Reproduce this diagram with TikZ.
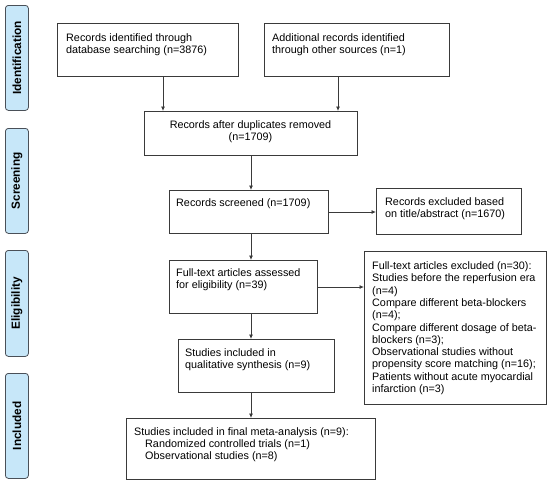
\documentclass[tikz,border=0pt]{standalone}
\usepackage{fontspec}
\setmainfont{Liberation Sans}
\usetikzlibrary{arrows.meta}
\definecolor{sidefill}{HTML}{C7E7F9}
\definecolor{sideline}{HTML}{4A5058}
\definecolor{boxline}{HTML}{3A3A3A}
\tikzset{
  box/.style={draw=boxline, line width=0.8pt, inner sep=0pt, anchor=north west},
  txt/.style={inner sep=0pt, anchor=base west, align=left, font=\fontsize{10.8}{12.3}\selectfont},
  ctxt/.style={inner sep=0pt, anchor=base, align=center, font=\fontsize{10.8}{12.3}\selectfont},
  side/.style={draw=sideline, fill=sidefill, line width=0.8pt, rounded corners=3pt, anchor=north west, inner sep=0pt},
  sidetxt/.style={rotate=90, font=\fontsize{11.8}{13}\selectfont\bfseries, inner sep=0pt},
  arr/.style={draw=boxline, line width=0.8pt, -{Latex[length=4.5pt,width=4pt]}}
}
\begin{document}
\begin{tikzpicture}[x=1pt,y=-1pt]
\useasboundingbox (0,0) rectangle (550,485);
% side labels
\node[side, minimum width=23pt, minimum height=105pt] (s1) at (5,5) {};
\node[sidetxt] (s1t) at (s1.center) {Identification};
\node[side, minimum width=23pt, minimum height=105pt] (s2) at (5,128) {};
\node[sidetxt] (s2t) at (s2.center) {Screening};
\node[side, minimum width=23pt, minimum height=106pt] (s3) at (5,250) {};
\node[sidetxt] (s3t) at (s3.center) {Eligibility};
\node[side, minimum width=23pt, minimum height=105pt] (s4) at (5,373) {};
\node[sidetxt] (s4t) at (s4.center) {Included};
% boxes (text anchors sit on the baseline of each text's last line)
\node[box, minimum width=181pt, minimum height=53pt] (b1) at (57,23) {};
\node[txt] (t1) at (66,53.3) {Records identified through\\database searching (n=3876)};
\node[box, minimum width=185pt, minimum height=53pt] (b2) at (264,23) {};
\node[txt] (t2) at (272,53.3) {Additional records identified\\through other sources (n=1)};
\node[box, minimum width=213pt, minimum height=44pt] (b3) at (144,111) {};
\node[ctxt] (t3) at (250.5,140.8) {Records after duplicates removed\\(n=1709)};
\node[box, minimum width=159pt, minimum height=43pt] (b4) at (169,190) {};
\node[txt] (t4) at (176,206.5) {Records screened (n=1709)};
\node[box, minimum width=145pt, minimum height=46pt] (b5) at (376,188) {};
\node[txt] (t5) at (385,217.8) {Records excluded based\\on title/abstract (n=1670)};
\node[box, minimum width=148pt, minimum height=53pt] (b6) at (169,260) {};
\node[txt] (t6) at (176,288.8) {Full-text articles assessed\\for eligibility (n=39)};
\node[box, minimum width=182pt, minimum height=153pt] (b7) at (364,251) {};
\node[txt] (t7) at (372,392.5) {Full-text articles excluded (n=30):\\Studies before the reperfusion era\\(n=4)\\Compare different beta-blockers\\(n=4);\\Compare different dosage of beta-\\blockers (n=3);\\Observational studies without\\propensity score matching (n=16);\\Patients without acute myocardial\\infarction (n=3)};
\node[box, minimum width=156pt, minimum height=53pt] (b8) at (178,339) {};
\node[txt] (t8) at (185,368.8) {Studies included in\\qualitative synthesis (n=9)};
\node[box, minimum width=249pt, minimum height=61pt] (b9) at (126,418) {};
\node[txt] (t9) at (134,459.6) {Studies included in final meta-analysis (n=9):\\\hspace*{11pt}Randomized controlled trials (n=1)\\\hspace*{11pt}Observational studies (n=8)};
% connector x positions
\coordinate (xa) at (163,0);
\coordinate (xb) at (338,0);
\coordinate (xc) at (251,0);
\coordinate (ya) at (0,212);
\coordinate (yb) at (0,287);
\draw[arr] (b1.south -| xa) -- (b3.north -| xa);
\draw[arr] (b2.south -| xb) -- (b3.north -| xb);
\draw[arr] (b3.south -| xc) -- (b4.north -| xc);
\draw[arr] (b4.south -| xc) -- (b6.north -| xc);
\draw[arr] (b6.south -| xc) -- (b8.north -| xc);
\draw[arr] (b8.south -| xc) -- (b9.north -| xc);
\draw[arr] (b4.east |- ya) -- (b5.west |- ya);
\draw[arr] (b6.east |- yb) -- (b7.west |- yb);
\end{tikzpicture}
\end{document}
